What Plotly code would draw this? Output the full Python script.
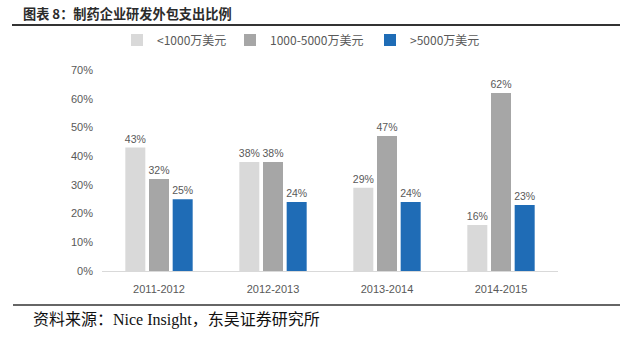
import plotly.graph_objects as go

categories = ["2011-2012", "2012-2013", "2013-2014", "2014-2015"]
series_names = ["<1000万美元", "1000-5000万美元", ">5000万美元"]
small = [0.43, 0.38, 0.29, 0.16]
medium = [0.32, 0.38, 0.47, 0.62]
large = [0.25, 0.24, 0.24, 0.23]
title_text = "图表 8：制药企业研发外包支出比例"
source_text = "资料来源：Nice Insight，东吴证券研究所"

W, H = 640, 339
L, R, T, B = 102, 558, 70, 271


def px(x):
    return (x - L) / (R - L)


def py(y):
    return (B - y) / (B - T)


colors = ["#d9d9d9", "#a6a6a6", "#1f6cb6"]
values = [small, medium, large]
legend_ids = ["legend", "legend2", "legend3"]
text_starts = [157, 270, 410]

narrow = "Liberation Sans Narrow, Arial Narrow, Liberation Sans, sans-serif"
cjk = "Liberation Sans Narrow, Noto Sans CJK SC, sans-serif"

fig = go.Figure()
for name, vals, col, lg in zip(series_names, values, colors, legend_ids):
    fig.add_trace(go.Bar(
        x=categories, y=vals, name=name, marker=dict(color=col, line=dict(width=0)),
        texttemplate="%{y:.0%}", textposition="outside", cliponaxis=False,
        constraintext="none",
        textfont=dict(family=narrow, size=10.5, color="#595959"),
        legend=lg, hoverinfo="skip",
    ))

layout_legends = {}
for lg, ts in zip(legend_ids, text_starts):
    layout_legends[lg] = dict(
        x=px(ts - 40), y=py(40), xanchor="left", yanchor="middle",
        orientation="h", bgcolor="rgba(0,0,0,0)", borderwidth=0,
        font=dict(family=cjk, size=12, color="#595959"),
        itemwidth=30,
    )

fig.update_layout(
    width=W, height=H,
    margin=dict(l=L, r=W - R, t=T, b=H - B),
    paper_bgcolor="white", plot_bgcolor="white",
    barmode="group", bargap=0.377, bargroupgap=0.155,
    showlegend=True,
    **layout_legends,
    xaxis=dict(
        showline=True, linecolor="#d9d9d9", linewidth=1, showgrid=False,
        ticks="", tickfont=dict(family="Liberation Sans, sans-serif", size=11, color="#595959"),
        ticklabelstandoff=8,
    ),
    yaxis=dict(
        range=[0, 0.7], dtick=0.1, tickformat=".0%", showgrid=False, zeroline=False,
        showline=False, ticks="",
        tickfont=dict(family=narrow, size=11, color="#595959"),
        ticklabelstandoff=8,
    ),
    shapes=[
        dict(type="line", xref="paper", yref="paper", x0=px(12), x1=px(620), y0=py(25), y1=py(25),
             line=dict(color="#333333", width=2)),
        dict(type="line", xref="paper", yref="paper", x0=px(13), x1=px(620), y0=py(305), y1=py(305),
             line=dict(color="#333333", width=1.5)),
    ],
    annotations=[
        dict(text="<b>" + title_text + "</b>", xref="paper", yref="paper", x=px(21), y=py(13),
             xanchor="left", yanchor="middle", showarrow=False,
             font=dict(family="Noto Sans CJK SC, sans-serif", size=13.2, color="#2b2b2b")),
        dict(text=source_text, xref="paper", yref="paper", x=px(31), y=py(320),
             xanchor="left", yanchor="middle", showarrow=False,
             font=dict(family="Liberation Serif, Noto Sans CJK SC, serif", size=16, color="#111111")),
    ],
)

fig.write_html("out.html")
